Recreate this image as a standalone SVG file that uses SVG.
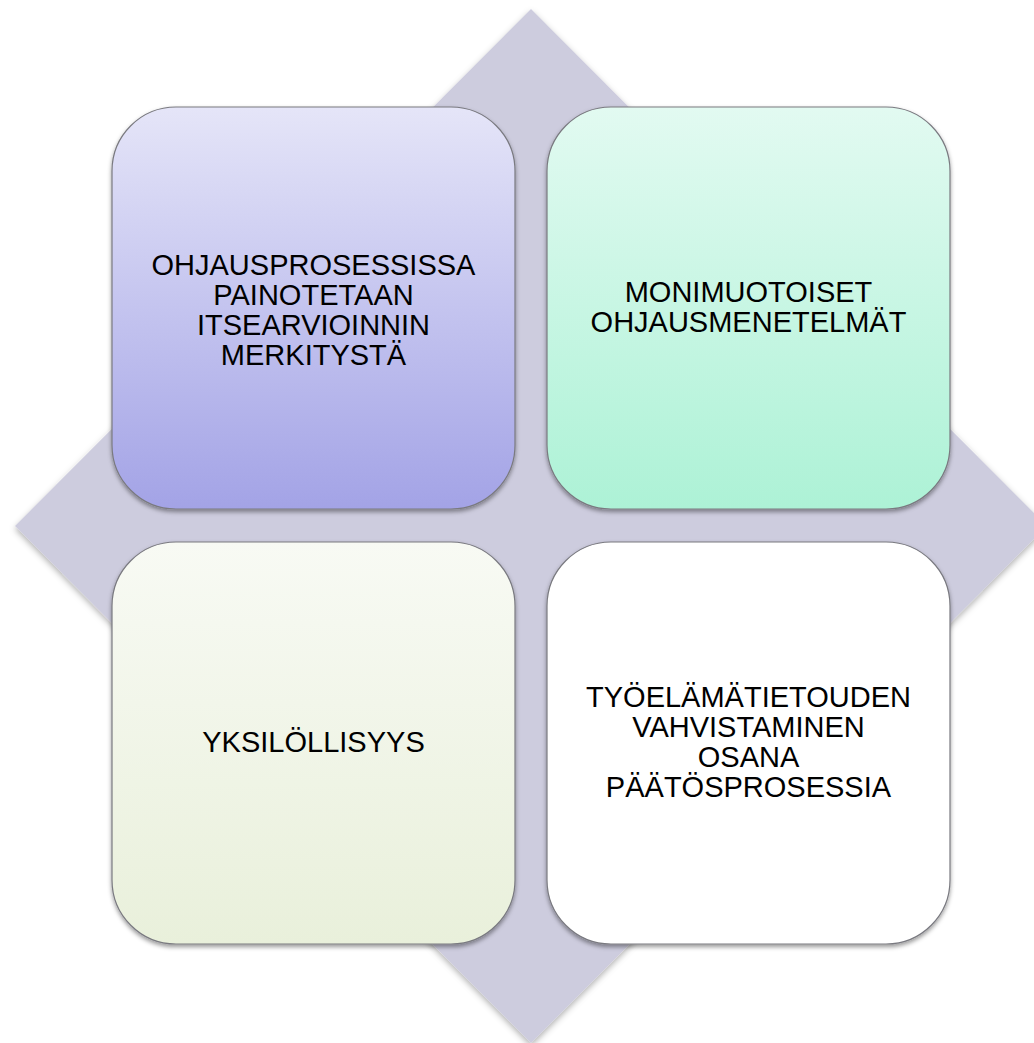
<svg xmlns="http://www.w3.org/2000/svg" width="1034" height="1043" viewBox="0 0 1034 1043">
<defs>
<style>
.box{stroke:#7a7a80;stroke-width:1.2;filter:url(#sh)}
.lbl{font-family:"Liberation Sans",Arial,sans-serif;font-size:29px;fill:#000;text-anchor:middle}
</style>
<filter id="sh" x="-10%" y="-10%" width="120%" height="120%">
<feDropShadow dx="0" dy="2.5" stdDeviation="2" flood-color="#000" flood-opacity="0.4"/>
</filter>
<filter id="dsh" x="-10%" y="-10%" width="120%" height="120%">
<feDropShadow dx="0" dy="3" stdDeviation="3" flood-color="#000" flood-opacity="0.3"/>
</filter>
<linearGradient id="g1" x1="0" y1="0" x2="0" y2="1">
<stop offset="0" stop-color="#E5E5F8"/>
<stop offset="1" stop-color="#A3A3E6"/>
</linearGradient>
<linearGradient id="g2" x1="0" y1="0" x2="0" y2="1">
<stop offset="0" stop-color="#E2FAF1"/>
<stop offset="1" stop-color="#ADF2D6"/>
</linearGradient>
<linearGradient id="g3" x1="0" y1="0" x2="0" y2="1">
<stop offset="0" stop-color="#F8FAF4"/>
<stop offset="1" stop-color="#E9F0DB"/>
</linearGradient>
</defs>
<rect width="1034" height="1043" fill="#fff"/>
<g id="diamond">
<polygon points="531,9 1047,526 531,1043 15,526" fill="#CDCCDE" filter="url(#dsh)"/>
</g>
<g id="node-1">
<rect class="box" x="112" y="107" width="403" height="402" rx="64" ry="64" fill="url(#g1)"/>
<text class="lbl" x="313.5" y="275">OHJAUSPROSESSISSA</text>
<text class="lbl" x="313.5" y="305">PAINOTETAAN</text>
<text class="lbl" x="313.5" y="335">ITSEARVIOINNIN</text>
<text class="lbl" x="313.5" y="365">MERKITYSTÄ</text>
</g>
<g id="node-2">
<rect class="box" x="547" y="107" width="403" height="402" rx="64" ry="64" fill="url(#g2)"/>
<text class="lbl" x="748.5" y="302">MONIMUOTOISET</text>
<text class="lbl" x="748.5" y="332">OHJAUSMENETELMÄT</text>
</g>
<g id="node-3">
<rect class="box" x="112" y="542" width="403" height="402" rx="64" ry="64" fill="url(#g3)"/>
<text class="lbl" x="313.5" y="752">YKSILÖLLISYYS</text>
</g>
<g id="node-4">
<rect class="box" x="547" y="542" width="403" height="402" rx="64" ry="64" fill="#fff"/>
<text class="lbl" x="748.5" y="707">TYÖELÄMÄTIETOUDEN</text>
<text class="lbl" x="748.5" y="737">VAHVISTAMINEN</text>
<text class="lbl" x="748.5" y="767">OSANA</text>
<text class="lbl" x="748.5" y="797">PÄÄTÖSPROSESSIA</text>
</g>
<g id="connectors"></g>
</svg>
